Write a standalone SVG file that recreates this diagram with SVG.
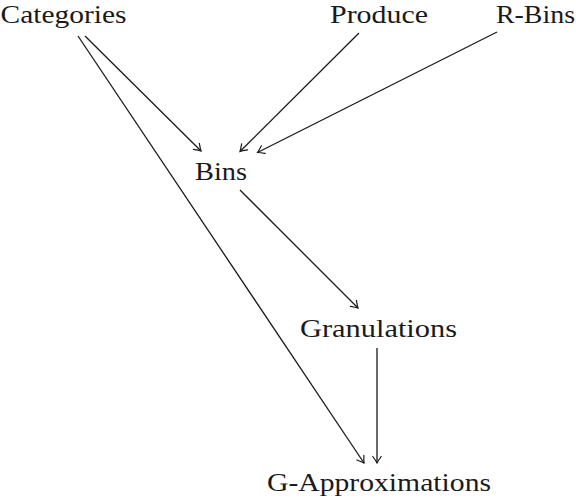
<svg xmlns="http://www.w3.org/2000/svg" width="576" height="498" viewBox="0 0 576 498">
<defs>
<style>
text{font-family:"Liberation Serif","DejaVu Serif",serif;font-size:26px;fill:#1a1a1a;text-anchor:middle}
.top{font-size:25px}
.e{stroke:#1a1a1a;stroke-width:1.3;fill:none}
</style>
<marker id="arr" viewBox="-8 -5 10 10" markerWidth="10" markerHeight="10" refX="0" refY="0" orient="auto" markerUnits="userSpaceOnUse">
<path d="M-6.5,-4.2 Q-2,-1 0,0 Q-2,1 -6.5,4.2" fill="none" stroke="#1a1a1a" stroke-width="1.2" stroke-linecap="round"/>
</marker>
</defs>
<rect width="576" height="498" fill="#fff"/>
<g id="connectors">
<path class="e" d="M85,36 L201,151" marker-end="url(#arr)"/>
<path class="e" d="M78,36 L364,463" marker-end="url(#arr)"/>
<path class="e" d="M359,33 L240,151.5" marker-end="url(#arr)"/>
<path class="e" d="M497,32 L257.5,152.5" marker-end="url(#arr)"/>
<path class="e" d="M240,190 L358,308" marker-end="url(#arr)"/>
<path class="e" d="M377,348 L377,463" marker-end="url(#arr)"/>
</g>
<g id="categories"><text class="top" x="63.5" y="23" textLength="126" lengthAdjust="spacingAndGlyphs">Categories</text></g>
<g id="produce"><text class="top" x="379" y="23" textLength="98" lengthAdjust="spacingAndGlyphs">Produce</text></g>
<g id="rbins"><text class="top" x="535.5" y="23" textLength="79" lengthAdjust="spacingAndGlyphs">R-Bins</text></g>
<g id="bins"><text x="221" y="180" textLength="52" lengthAdjust="spacingAndGlyphs">Bins</text></g>
<g id="granulations"><text x="378.5" y="337" textLength="157" lengthAdjust="spacingAndGlyphs">Granulations</text></g>
<g id="gapprox"><text x="379" y="491" textLength="224" lengthAdjust="spacingAndGlyphs">G-Approximations</text></g>
</svg>
